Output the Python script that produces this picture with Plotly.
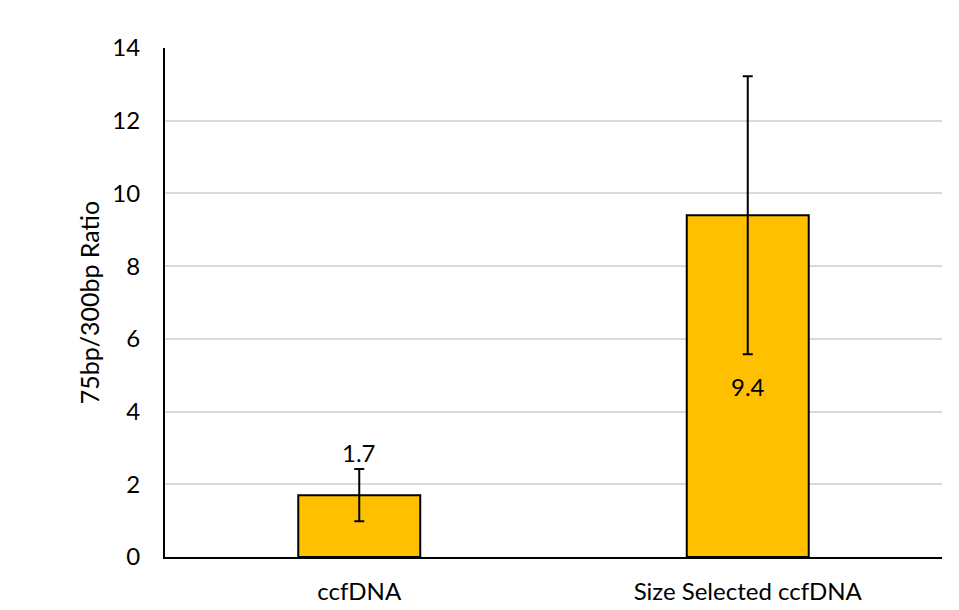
import plotly.graph_objects as go

categories = ["ccfDNA", "Size Selected ccfDNA"]
values = [1.7, 9.4]
errors = [0.72, 3.82]
labels = ["1.7", "9.4"]
y_ticks = [0, 2, 4, 6, 8, 10, 12, 14]

FONT = "Lato, Liberation Sans, sans-serif"

fig = go.Figure()
fig.add_trace(go.Bar(
    x=categories,
    y=values,
    width=0.314,
    marker=dict(color="#FFC000", line=dict(color="black", width=2)),
    error_y=dict(type="data", array=errors, visible=True, color="black", thickness=2, width=5),
    text=["", labels[1]],
    textposition="inside",
    insidetextanchor="middle",
    textfont=dict(color="black", size=24, family=FONT),
    showlegend=False,
))

fig.add_annotation(
    x=categories[0], y=values[0] + errors[0], text=labels[0],
    showarrow=False, yanchor="bottom", yshift=0,
    font=dict(color="black", size=24, family=FONT),
)

fig.update_layout(
    width=951, height=602,
    margin=dict(l=157, r=17, t=40, b=53),
    paper_bgcolor="white", plot_bgcolor="white",
    font=dict(family=FONT, color="black", size=24),
    bargap=0.686,
)
fig.update_xaxes(
    showline=True, linecolor="black", linewidth=2,
    tickfont=dict(size=24), ticks="", ticklabelstandoff=12,
    automargin=False,
)
fig.update_yaxes(
    range=[0, 14], tickvals=y_ticks,
    showline=True, linecolor="black", linewidth=2,
    showgrid=True, gridcolor="#d9d9d9", gridwidth=1.5,
    tickfont=dict(size=24), ticks="", ticklen=0, ticklabelstandoff=18,
    title=dict(text="75bp/300bp Ratio", font=dict(size=25), standoff=6),
    zeroline=False, automargin=False,
)

fig.write_html("out.html")
